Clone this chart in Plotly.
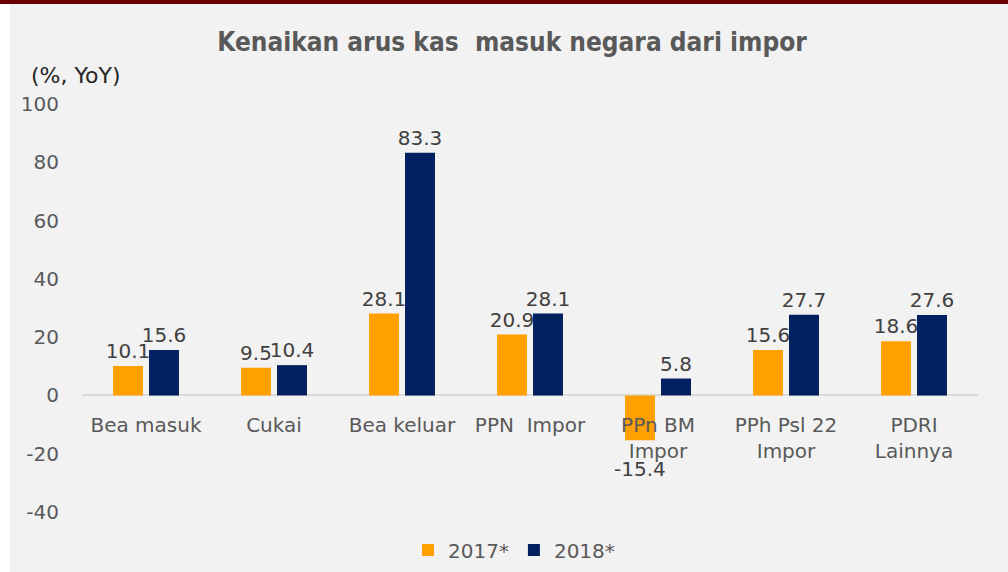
import plotly.graph_objects as go

categories = ["Bea masuk", "Cukai", "Bea keluar", "PPN  Impor", "PPn BM<br>Impor", "PPh Psl 22<br>Impor", "PDRI<br>Lainnya"]
values_2017 = [10.1, 9.5, 28.1, 20.9, -15.4, 15.6, 18.6]
values_2018 = [15.6, 10.4, 83.3, 28.1, 5.8, 27.7, 27.6]
series_names = ["2017*", "2018*"]
y_ticks = [-40, -20, 0, 20, 40, 60, 80, 100]
y_tick_labels = ["-40", "-20", "0", "20", "40", "60", "80", "100"]

W, H = 1008, 572
ML, MR, MT, MB = 82, 30, 104, 60
PW, PH = W - ML - MR, H - MT - MB
YMIN, YMAX = -40, 100

FONT = "DejaVu Sans"
LABEL_FONT = dict(family=FONT, size=20, color="#404040")

fig = go.Figure()
series = [(series_names[0], values_2017, "#FFA000", -18), (series_names[1], values_2018, "#002060", 18)]
for name, vals, col, offset in series:
    fig.add_trace(go.Bar(
        x=categories, y=vals, name=name, marker=dict(color=col, line=dict(width=0)),
        text=[f"{v:.1f}" for v in vals],
        textposition=["outside" if v >= 0 else "none" for v in vals],
        cliponaxis=False, constraintext="none",
        textfont=LABEL_FONT,
    ))
    # negative values: label placed below the bar, clear of the category label
    for cat, v in zip(categories, vals):
        if v < 0:
            fig.add_annotation(x=cat, y=v, xref="x", yref="y", text=f"{v:.1f}", showarrow=False,
                               xshift=offset, yshift=-15, yanchor="top", xanchor="center",
                               font=LABEL_FONT)

zero_pos = (0 - YMIN) / (YMAX - YMIN)


def px_x(p):
    return (p - ML) / PW


def px_y(p):
    return 1 - (p - MT) / PH


fig.update_layout(
    width=W, height=H,
    margin=dict(l=ML, r=MR, t=MT, b=MB, autoexpand=False),
    paper_bgcolor="#F2F2F2", plot_bgcolor="#F2F2F2",
    barmode="group", bargap=0.4375, bargroupgap=0.167,
    font=dict(family=FONT, size=20, color="#595959"),
    title=dict(text="<b>Kenaikan arus kas  masuk negara dari impor</b>",
               x=512 / W, xref="container", xanchor="center", y=1 - 42 / H, yanchor="middle",
               font=dict(family="DejaVu Sans Condensed", size=26, color="#595959")),
    xaxis=dict(anchor="free", position=zero_pos, showline=False, ticks="",
               showgrid=False, ticklabelstandoff=16,
               tickfont=dict(family=FONT, size=20, color="#595959")),
    yaxis=dict(range=[YMIN, YMAX], tickvals=y_ticks, ticktext=y_tick_labels, showgrid=False, zeroline=True,
               zerolinecolor="#D9D9D9", zerolinewidth=2, ticks="", ticklabelstandoff=22,
               tickfont=dict(family=FONT, size=20, color="#595959")),
    legend=dict(orientation="h", x=px_x(514), xanchor="center", y=-(550 - (MT + PH)) / PH, yanchor="middle",
                font=dict(family=FONT, size=20, color="#595959"), bgcolor="rgba(0,0,0,0)",
                traceorder="normal"),
    showlegend=True,
)

fig.add_annotation(text="(%, YoY)", xref="paper", yref="paper", x=px_x(29), y=px_y(75),
                   xanchor="left", yanchor="middle", showarrow=False,
                   font=dict(family=FONT, size=22, color="#262626"))
# top dark red rule and left white strip
fig.add_shape(type="rect", xref="paper", yref="paper", x0=px_x(0), x1=px_x(10), y0=px_y(H), y1=px_y(0),
              fillcolor="#FFFFFF", line=dict(width=0), layer="below")
fig.add_shape(type="rect", xref="paper", yref="paper", x0=px_x(0), x1=px_x(W), y0=px_y(4), y1=px_y(0),
              fillcolor="#6B0000", line=dict(width=0))

fig.write_html("out.html", config={"displayModeBar": False},
               post_script="document.body.style.margin='0';document.body.style.overflow='hidden';")
